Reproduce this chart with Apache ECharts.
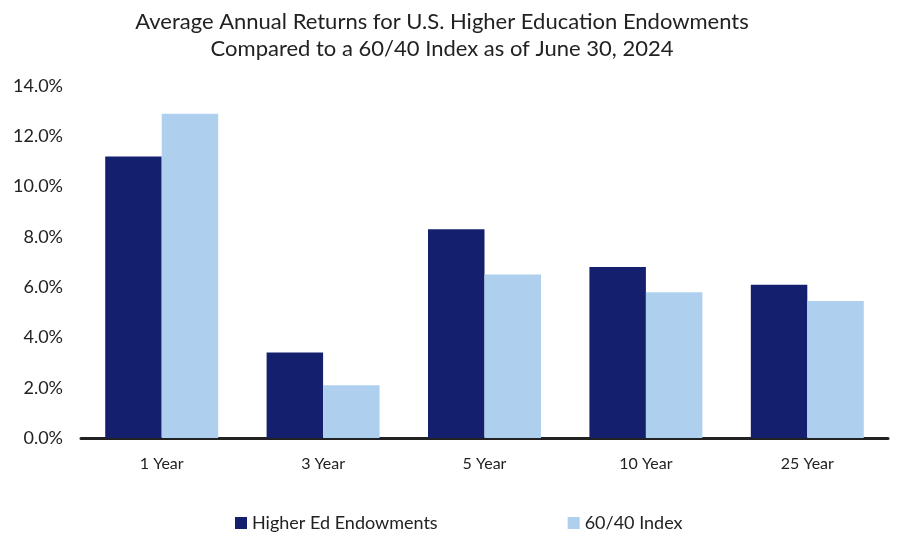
<!DOCTYPE html>
<html>
<head>
<meta charset="utf-8">
<script src="https://cdn.jsdelivr.net/npm/echarts@6/dist/echarts.min.js"></script>
<style>
  html, body { margin: 0; padding: 0; background: #fff; }
  #chart { width: 902px; height: 552px; }
</style>
</head>
<body>
<div id="chart"></div>
<script>
var periods = ['1 Year', '3 Year', '5 Year', '10 Year', '25 Year'];
var endowments = [11.2, 3.4, 8.3, 6.8, 6.1];
var index6040 = [12.9, 2.1, 6.5, 5.8, 5.45];
var seriesNames = ['Higher Ed Endowments', '60/40 Index'];

var chart = echarts.init(document.getElementById('chart'));
var option = {
    backgroundColor: '#fff',
    textStyle: { fontFamily: 'Lato' },
    title: {
        text: 'Average Annual Returns for U.S. Higher Education Endowments\nCompared to a 60/40 Index as of June 30, 2024',
        left: 437,
        top: 3,
        textAlign: 'center',
        textStyle: {
            fontFamily: 'Lato',
            fontSize: 22,
            fontWeight: 'normal',
            color: '#222',
            lineHeight: 27
        }
    },
    legend: {
        data: seriesNames,
        left: 230,
        top: 509,
        itemGap: 130,
        itemWidth: 12,
        itemHeight: 12,
        icon: 'rect',
        textStyle: { fontSize: 18, color: '#222', fontFamily: 'Lato' }
    },
    grid: {
        left: 81,
        right: 14,
        top: 86,
        bottom: 114
    },
    xAxis: {
        type: 'category',
        data: periods,
        axisLine: { lineStyle: { color: '#222', width: 3 } },
        axisTick: { show: false },
        axisLabel: { fontSize: 16, color: '#222', margin: 18 }
    },
    yAxis: {
        type: 'value',
        min: 0,
        max: 14,
        interval: 2,
        axisLine: { show: false },
        axisTick: { show: false },
        splitLine: { show: false },
        axisLabel: {
            fontSize: 18,
            color: '#222',
            margin: 18,
            formatter: function (v) { return v.toFixed(1) + '%'; }
        }
    },
    series: [
        {
            name: seriesNames[0],
            type: 'bar',
            data: endowments,
            barGap: '0%',
            barCategoryGap: '30%',
            itemStyle: { color: '#14206e' }
        },
        {
            name: seriesNames[1],
            type: 'bar',
            data: index6040,
            itemStyle: { color: '#aed0ee' }
        }
    ]
};
chart.setOption(option);
</script>
</body>
</html>
